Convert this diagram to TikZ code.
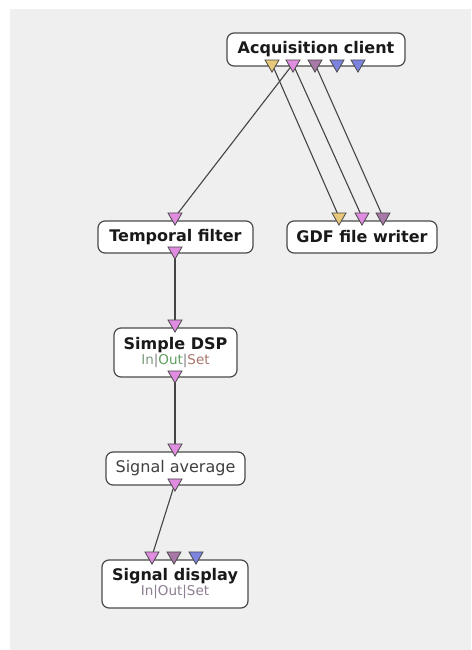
\documentclass[tikz,border=0pt]{standalone}
\usepackage{fontspec}
\setmainfont{DejaVu Sans}
\usetikzlibrary{shapes.geometric}
\pgfdeclarelayer{bg}
\pgfdeclarelayer{edges}
\pgfsetlayers{bg,edges,main}
\definecolor{bggray}{HTML}{EFEFEF}
\definecolor{boxline}{HTML}{4A4A4A}
\definecolor{wire}{HTML}{444444}
\definecolor{pyellow}{HTML}{E6C878}
\definecolor{ppink}{HTML}{E08CE0}
\definecolor{pmauve}{HTML}{A878A8}
\definecolor{pblue}{HTML}{7C84E0}
\definecolor{txtin}{HTML}{7E9A80}
\definecolor{txtout}{HTML}{5FA062}
\definecolor{txtset}{HTML}{A8766C}
\definecolor{txtfade}{HTML}{8E7E92}
\newcommand{\ioslabel}{{\mdseries\fontsize{13.5}{15}\selectfont\color{txtin}In\color{gray}|\color{txtout}Out\color{gray}|\color{txtset}Set}}
\newcommand{\iosfade}{{\mdseries\fontsize{13.5}{15}\selectfont\color{txtfade}In|Out|Set}}
\tikzset{
  x=1pt, y=-1pt,
  boxnode/.style={draw=boxline, line width=1.2pt, fill=white, rounded corners=7pt,
    inner sep=0pt, align=center, font=\fontsize{16}{18}\selectfont\bfseries, text=black!90},
  port/.style={regular polygon, regular polygon sides=3, shape border rotate=180,
    minimum size=16.2pt, inner sep=0pt, draw=boxline, line width=0.8pt, fill=#1},
  wireline/.style={draw=wire, line width=1.1pt}
}
\begin{document}
\begin{tikzpicture}
\useasboundingbox (0,0) rectangle (471,650);
\begin{pgfonlayer}{bg}
\fill[bggray] (10,9) rectangle (471,650);
\end{pgfonlayer}

% boxes
\node[boxnode, minimum width=178pt, minimum height=33pt] (ac) at (316,49.5) {Acquisition client};
\node[boxnode, minimum width=155pt, minimum height=32pt] (tf) at (175.5,237) {Temporal filter};
\node[boxnode, minimum width=150pt, minimum height=32pt] (gdf) at (362,237) {GDF file writer};
\node[boxnode, minimum width=123pt, minimum height=49pt] (dsp) at (175.5,352.5) {Simple DSP\\[-3pt]\ioslabel};
\node[boxnode, minimum width=139pt, minimum height=33pt, font=\fontsize{16}{18}\selectfont, text=black!75] (sa) at (175.5,468.5) {Signal average};
\node[boxnode, minimum width=146pt, minimum height=48pt] (sd) at (175,584) {Signal display\\[-3pt]\iosfade};

% ports
\node[port=pyellow] (aco1) at (272,64) {};
\node[port=ppink]   (aco2) at (293,64) {};
\node[port=pmauve]  (aco3) at (315,64) {};
\node[port=pblue]   (aco4) at (337,64) {};
\node[port=pblue]   (aco5) at (358,64) {};

\node[port=ppink] (tfi) at (175,217) {};
\node[port=ppink] (tfo) at (175,251) {};

\node[port=pyellow] (gdfi1) at (339,217) {};
\node[port=ppink]   (gdfi2) at (362,217) {};
\node[port=pmauve]  (gdfi3) at (383,217) {};

\node[port=ppink] (dspi) at (175,324) {};
\node[port=ppink] (dspo) at (175,375) {};

\node[port=ppink] (sai) at (175,448) {};
\node[port=ppink] (sao) at (175,483) {};

\node[port=ppink]  (sdi1) at (152,556) {};
\node[port=pmauve] (sdi2) at (174,556) {};
\node[port=pblue]  (sdi3) at (196,556) {};

% wires
\begin{pgfonlayer}{edges}
\draw[wireline] (aco2.center) -- (tfi.center);
\draw[wireline] (aco1.center) -- (gdfi1.center);
\draw[wireline] (aco2.center) -- (gdfi2.center);
\draw[wireline] (aco3.center) -- (gdfi3.center);
\draw[wireline] (tfo.center) -- (dspi.center);
\draw[wireline] (dspo.center) -- (sai.center);
\draw[wireline] (sao.center) -- (sdi1.center);
\end{pgfonlayer}
\end{tikzpicture}
\end{document}
